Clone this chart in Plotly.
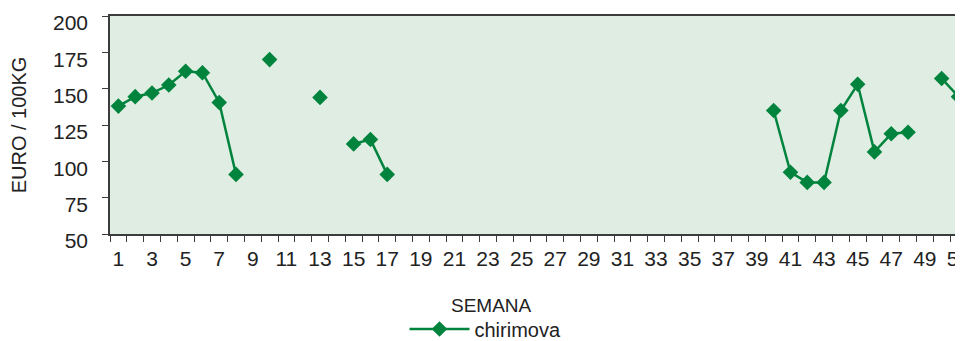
import plotly.graph_objects as go

# semanas 1..51 (precio chirimoya, euro/100kg); None = sin cotización
weeks = list(range(1, 52))
prices = [
    138, 144.5, 147, 152.5, 162, 161, 140.5, 91, None, 170,
    None, None, 144, None, 112, 115, 91, None, None, None,
    None, None, None, None, None, None, None, None, None, None,
    None, None, None, None, None, None, None, None, None, 135,
    92.5, 85.5, 85.5, 135, 153, 106.5, 119, 120, None, 157,
    144.5,
]
tick_weeks = list(range(1, 52, 2))
tick_text = [str(w) for w in tick_weeks]

GREEN = "#00843d"
AXIS = "#3c3c3c"
FONT = "Liberation Sans, Arial, sans-serif"

fig = go.Figure()
fig.add_trace(go.Scatter(
    x=weeks, y=prices, mode="lines+markers", name="chirimova",
    line=dict(color=GREEN, width=2.5),
    marker=dict(symbol="diamond", size=12, color=GREEN),
    connectgaps=False,
))

# la página tiene 8px de margen en el body: la figura se reduce para que quepa
fig.update_layout(
    width=955, height=333,
    margin=dict(l=102, r=0, t=8, b=107),
    paper_bgcolor="white",
    plot_bgcolor="#dfede2",
    font=dict(family=FONT, size=19, color="#222222"),
    showlegend=True,
    legend=dict(
        orientation="h", xref="container", yref="container",
        x=0.5, xanchor="center", y=0.036, yanchor="middle",
        itemwidth=60, font=dict(size=20), bgcolor="rgba(0,0,0,0)",
    ),
    annotations=[dict(
        text="SEMANA", xref="paper", yref="paper", x=0.447, y=-0.33,
        xanchor="center", yanchor="middle", showarrow=False,
        font=dict(size=19, color="#222222"),
    )],
)

fig.update_xaxes(
    range=[0.5, 51.27], tickmode="array", tickvals=tick_weeks, ticktext=tick_text,
    ticks="outside", ticklen=5, tickcolor="rgba(0,0,0,0)", ticklabelstandoff=0,
    ticklabeloverflow="allow",
    minor=dict(ticks="outside", tick0=0.5, dtick=1, ticklen=6, tickcolor=AXIS, tickwidth=1.2),
    showline=True, linecolor=AXIS, linewidth=1.5, mirror=True,
    showgrid=False, zeroline=False, tickfont=dict(size=21), automargin=False,
)
fig.update_yaxes(
    range=[50, 200], dtick=25, ticks="outside", ticklen=6, tickcolor=AXIS, tickwidth=1.2,
    ticklabelshift=7, ticklabelstandoff=10, ticklabeloverflow="allow",
    showline=True, linecolor=AXIS, linewidth=1.5,
    showgrid=False, zeroline=False, tickfont=dict(size=21), automargin=False,
    title=dict(text="EURO / 100KG", font=dict(size=20), standoff=26),
)

fig.write_html("out.html")
